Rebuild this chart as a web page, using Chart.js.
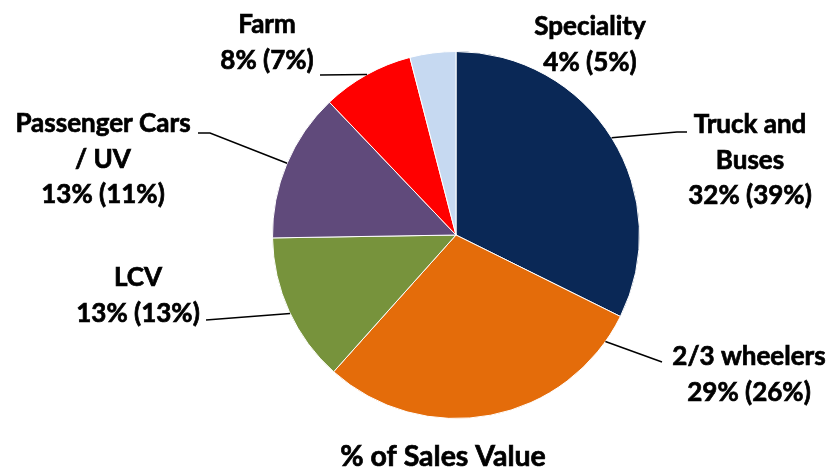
<!DOCTYPE html>
<html>
<head>
<meta charset="utf-8">
<script src="https://cdn.jsdelivr.net/npm/chart.js@4/dist/chart.umd.min.js"></script>
<style>
  html, body { margin: 0; padding: 0; background: #fff; }
  #wrap { width: 834px; height: 469px; position: relative; }
</style>
</head>
<body>
<div id="wrap"><canvas id="chart"></canvas></div>
<script>
// categories and values (share of sales value, bracket = second figure shown)
const categories = ["Truck and Buses", "2/3 wheelers", "LCV", "Passenger Cars / UV", "Farm", "Speciality"];
const salesValue = [32, 29, 13, 13, 8, 4];
const bracketValue = [39, 26, 13, 11, 7, 5];
const sliceColors = ["#0a2856", "#e46c0a", "#77933c", "#604a7b", "#ff0000", "#c6d9f1"];
const chartTitle = "% of Sales Value";

// label placement: text lines, centre x, first baseline, leader edge angle (deg from top), elbow points
const labelLayout = [
    { lines: ["Truck and", "Buses"], x: 750, y: 133, angle: 58, path: [[677, 132], [687, 132]] },
    { lines: ["2/3 wheelers"], x: 749, y: 365, angle: 125.5, path: [[662, 362]] },
    { lines: ["LCV"], x: 138, y: 286, angle: 244.7, path: [[206, 320]] },
    { lines: ["Passenger Cars", "/ UV"], x: 103, y: 132, angle: 293, path: [[210, 133], [198, 133]] },
    { lines: ["Farm"], x: 267, y: 33, angle: 331, path: [[320, 75]] },
    { lines: ["Speciality"], x: 590, y: 35, angle: null, path: [] }
];

const FONT = "bold 26px Lato";
const LINE_H = 35.5;

function boldText(ctx, t, x, y) {
    ctx.fillText(t, x, y);
    ctx.strokeText(t, x, y);
}

const labelPlugin = {
    id: "sliceLabels",
    afterDraw(chart) {
        const ctx = chart.ctx;
        const arc = chart.getDatasetMeta(0).data[0];
        const cx = arc.x, cy = arc.y, r = arc.outerRadius;
        ctx.save();
        ctx.strokeStyle = "#000";
        labelLayout.forEach(function (lab, i) {
            if (lab.angle !== null) {
                const a = lab.angle * Math.PI / 180;
                ctx.lineWidth = 1.5;
                ctx.beginPath();
                ctx.moveTo(cx + r * Math.sin(a), cy - r * Math.cos(a));
                lab.path.forEach(function (p) { ctx.lineTo(p[0], p[1]); });
                ctx.stroke();
            }
            ctx.font = FONT;
            ctx.fillStyle = "#000";
            ctx.lineWidth = 0.7;
            ctx.textAlign = "center";
            ctx.textBaseline = "alphabetic";
            const lines = lab.lines.concat([salesValue[i] + "% (" + bracketValue[i] + "%)"]);
            lines.forEach(function (t, k) {
                boldText(ctx, t, lab.x, lab.y + k * LINE_H);
            });
        });
        ctx.font = "bold 28.5px Lato";
        ctx.lineWidth = 0.7;
        ctx.textAlign = "center";
        boldText(ctx, chartTitle, 443, 466);
        ctx.restore();
    }
};

new Chart(document.getElementById("chart").getContext("2d"), {
    type: "pie",
    data: {
        labels: categories,
        datasets: [{
            data: salesValue,
            backgroundColor: sliceColors,
            borderColor: "#ffffff",
            borderWidth: 1
        }]
    },
    options: {
        responsive: true,
        maintainAspectRatio: false,
        animation: false,
        layout: { padding: { top: 51, bottom: 50, left: 272, right: 194 } },
        plugins: {
            legend: { display: false },
            tooltip: { enabled: false }
        }
    },
    plugins: [labelPlugin]
});
</script>
</body>
</html>
